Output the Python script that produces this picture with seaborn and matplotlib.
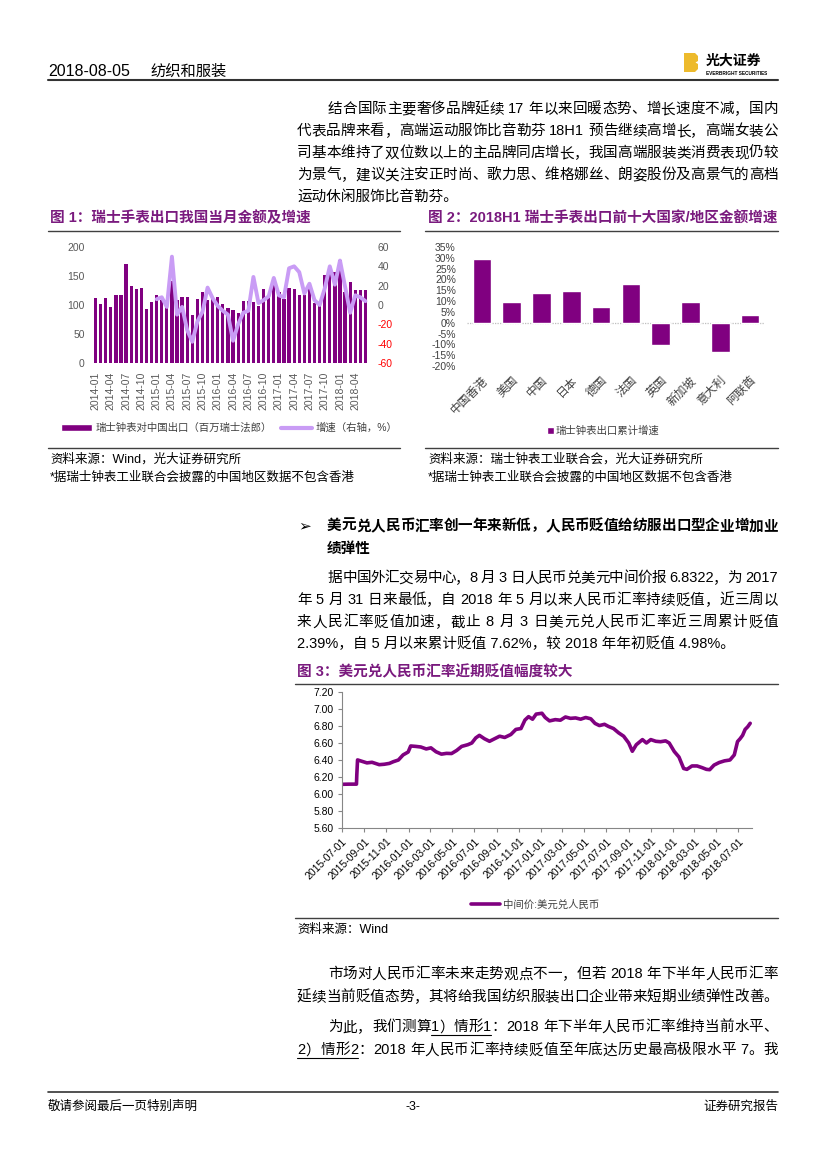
import re
import numpy as np
import pandas as pd
import matplotlib
matplotlib.use("Agg")
import matplotlib.pyplot as plt
import matplotlib.dates as mdates
import seaborn as sns
from matplotlib import font_manager
from matplotlib.lines import Line2D
from matplotlib.patches import Patch, Polygon

W, H = 827, 1169
PT = 100 / 72

# ---------------- data ----------------
months = pd.date_range("2014-01", "2018-06", freq="MS").strftime("%Y-%m").tolist()
export_value = [112, 101, 112, 96, 118, 117, 170, 133, 127, 130, 93, 105,
                117, 109, 97, 141, 108, 114, 114, 82, 110, 122, 109, 114,
                114, 102, 95, 91, 87, 107, 107, 106, 98, 128, 114, 136,
                122, 110, 130, 127, 117, 117, 130, 103, 100, 151, 159, 157,
                178, 122, 139, 125, 125, 126]
growth_start = "2015-01"
growth = [6, 8, -2, 50, -10, -2, -26, -38, -17, -7, 18, 7,
          -1, -6, -10, -37, -20, -8, -6, 29, 2, 5, 9, 28,
          10, 8, 38, 40, 34, 12, 22, 5, 0, 17, 40, 21,
          46, 19, -8, 10, 8, 4]

regions = ["中国香港", "美国", "中国", "日本", "德国", "法国", "英国", "新加坡", "意大利", "阿联酋"]
region_growth = [29.5, 9.5, 13.8, 14.5, 7.3, 18.0, -10.5, 9.7, -13.5, 3.5]

fx_dates = ["2015-07-01", "2015-07-20", "2015-08-10", "2015-08-11", "2015-08-13", "2015-08-24",
            "2015-09-08", "2015-09-22", "2015-10-12", "2015-10-26", "2015-11-09", "2015-11-20",
            "2015-12-04", "2015-12-17", "2015-12-31", "2016-01-07", "2016-01-21", "2016-02-04",
            "2016-02-19", "2016-03-03", "2016-03-17", "2016-04-01", "2016-04-15", "2016-04-29",
            "2016-05-13", "2016-05-27", "2016-06-13", "2016-06-24", "2016-07-05", "2016-07-15",
            "2016-07-29", "2016-08-12", "2016-08-26", "2016-09-09", "2016-09-23", "2016-10-10",
            "2016-10-24", "2016-11-07", "2016-11-18", "2016-11-28", "2016-12-09", "2016-12-19",
            "2017-01-04", "2017-01-13", "2017-01-25", "2017-02-10", "2017-02-24", "2017-03-10",
            "2017-03-24", "2017-04-07", "2017-04-21", "2017-05-05", "2017-05-19", "2017-05-31",
            "2017-06-12", "2017-06-26", "2017-07-07", "2017-07-21", "2017-08-04", "2017-08-18",
            "2017-09-01", "2017-09-11", "2017-09-22", "2017-10-09", "2017-10-20", "2017-11-01",
            "2017-11-15", "2017-11-28", "2017-12-12", "2017-12-22", "2018-01-05", "2018-01-18",
            "2018-01-31", "2018-02-09", "2018-02-23", "2018-03-09", "2018-03-23", "2018-04-04",
            "2018-04-13", "2018-04-25", "2018-05-09", "2018-05-24", "2018-06-08", "2018-06-20",
            "2018-06-29", "2018-07-06", "2018-07-13", "2018-07-20", "2018-07-27", "2018-08-03"]
fx_values = [6.114, 6.116, 6.116, 6.230, 6.401, 6.386,
             6.366, 6.373, 6.345, 6.350, 6.360, 6.380,
             6.400, 6.460, 6.494, 6.565, 6.560, 6.553,
             6.530, 6.543, 6.497, 6.469, 6.478, 6.476,
             6.512, 6.560, 6.580, 6.600, 6.660, 6.690,
             6.650, 6.620, 6.650, 6.680, 6.665, 6.700,
             6.760, 6.770, 6.870, 6.910, 6.880, 6.940,
             6.950, 6.900, 6.860, 6.875, 6.868, 6.906,
             6.890, 6.895, 6.880, 6.900, 6.885, 6.830,
             6.805, 6.820, 6.795, 6.770, 6.720, 6.680,
             6.600, 6.503, 6.580, 6.640, 6.600, 6.640,
             6.620, 6.615, 6.625, 6.600, 6.500, 6.435,
             6.300, 6.290, 6.330, 6.330, 6.310, 6.290,
             6.286, 6.340, 6.370, 6.390, 6.400, 6.460,
             6.617, 6.650, 6.690, 6.760, 6.790, 6.832]

PURPLE = "#800080"
LAVENDER = "#C99CF5"
TITLE = "#7A1A7E"
GRAY = "#595959"

# ---------------- fonts ----------------
sns.set_theme(style="white")
names = {f.name for f in font_manager.fontManager.ttflist}
BODY = ["Liberation Sans", "Noto Sans CJK SC", "DejaVu Sans"]
NARROW = (["Liberation Sans Narrow"] if "Liberation Sans Narrow" in names else []) + BODY
plt.rcParams["font.family"] = BODY
plt.rcParams["axes.unicode_minus"] = False

fig = plt.figure(figsize=(8.27, 11.69), dpi=100)
renderer = fig.canvas.get_renderer()


def fx(x):
    return x / W


def fy(y):
    return 1 - y / H


def hline(y, x0, x1, lw=1.0, color="black"):
    fig.add_artist(Line2D([fx(x0), fx(x1)], [fy(y), fy(y)], transform=fig.transFigure,
                          lw=lw, color=color))


def put(s, x, y, size=10.5, weight="normal", color="black", family=None, ha="left"):
    return fig.text(fx(x), fy(y + 0.36 * size * PT), s, fontsize=size, fontweight=weight,
                    color=color, family=family or BODY, ha=ha, va="baseline")


TOKEN = re.compile(r"[A-Za-z0-9.%\-]+| |.")


def justify(s, x0, x1, y, size=10.5, weight="normal", underline=None, family=None):
    toks = [(m.group(), m.start()) for m in TOKEN.finditer(s)]
    widths, arts = [], []
    for t, _ in toks:
        if t == " ":
            widths.append(size * 0.28 * PT)
            arts.append(None)
        else:
            a = put(t, x0, y, size=size, weight=weight, family=family)
            widths.append(a.get_window_extent(renderer).width)
            arts.append(a)
    gap = (x1 - x0 - sum(widths)) / (len(toks) - 1)
    x = x0
    spans = []
    for (t, st), w, a in zip(toks, widths, arts):
        if a is not None:
            a.set_x(fx(x))
        spans.append((st, x, x + w))
        x += w + gap
    if underline:
        a0 = s.index(underline)
        a1 = a0 + len(underline)
        xs = [(l, r) for st, l, r in spans if a0 <= st < a1]
        hline(y + 9, xs[0][0], xs[-1][1], lw=0.8)


# ---------------- page header ----------------
put("2018-08-05", 48, 70, size=11.5, family=NARROW)
put("纺织和服装", 150, 70, size=11, family=NARROW)
fig.add_artist(Polygon([(fx(684), fy(53)), (fx(695), fy(53)), (fx(698), fy(56)), (fx(698), fy(61)),
                        (fx(695.5), fy(62.5)), (fx(698), fy(64)), (fx(698), fy(69)), (fx(695), fy(72)),
                        (fx(684), fy(72))], closed=True, transform=fig.transFigure,
                       facecolor="#EDBA2C", edgecolor="none"))
put("光大证券", 706, 60, size=10, weight="bold")
put("EVERBRIGHT SECURITIES", 706, 73, size=3.4, weight="bold")
hline(80, 48, 778, lw=1.5, color="#333333")

# ---------------- paragraph 1 ----------------
justify("结合国际主要奢侈品牌延续 17 年以来回暖态势、增长速度不减，国内", 328, 778, 108)
justify("代表品牌来看，高端运动服饰比音勒芬 18H1 预告继续高增长，高端女装公", 297, 778, 130)
justify("司基本维持了双位数以上的主品牌同店增长，我国高端服装类消费表现仍较", 297, 778, 152)
justify("为景气，建议关注安正时尚、歌力思、维格娜丝、朗姿股份及高景气的高档", 297, 778, 174)
put("运动休闲服饰比音勒芬。", 297, 196)

# ---------------- figure 1 ----------------
put("图 1：瑞士手表出口我国当月金额及增速", 50, 217, size=10.5, weight="bold", color=TITLE)
hline(231, 48, 400, lw=1.0, color="#404040")
ax1 = fig.add_axes([fx(93), fy(363), (368 - 93) / W, (363 - 247) / H])
df1 = pd.DataFrame({"month": months, "value": export_value})
sns.barplot(data=df1, x="month", y="value", color=PURPLE, saturation=1, width=0.64,
            linewidth=0, ax=ax1)
ax1.set_ylim(0, 200)
ax1.set_yticks(range(0, 201, 50))
ax1.set_xticks(range(0, len(months), 3))
ax1.set_xticklabels(months[::3], rotation=90)
ax1.set_xlabel("")
ax1.set_ylabel("")
ax1.tick_params(length=0, labelsize=7.5, labelcolor=GRAY, pad=6)
ax1r = ax1.twinx()
df_g = pd.DataFrame({"pos": np.arange(months.index(growth_start), len(months)), "growth": growth})
sns.lineplot(data=df_g, x="pos", y="growth", color=LAVENDER, lw=2.8, ax=ax1r)
ax1.set_xlim(-0.5, len(months) - 0.5)
ax1r.set_ylim(-60, 60)
rticks = list(range(-60, 61, 20))
ax1r.set_yticks(rticks)
ax1r.set_ylabel("")
ax1r.tick_params(length=0, labelsize=7.5, labelcolor=GRAY, pad=7)
for lbl, v in zip(ax1r.get_yticklabels(), rticks):
    if v < 0:
        lbl.set_color("#FF0000")
for a in (ax1, ax1r):
    for sp in a.spines.values():
        sp.set_visible(False)
    a.patch.set_visible(False)
fig.legend(handles=[Patch(facecolor=PURPLE), Line2D([], [], color=LAVENDER, lw=3)],
           labels=["瑞士钟表对中国出口（百万瑞士法郎）", "增速（右轴，%）"],
           loc="center", bbox_to_anchor=(fx(229), fy(428)), ncol=2, frameon=False,
           fontsize=7.5, handlelength=3.0, handleheight=0.6, handletextpad=0.3,
           columnspacing=0.9, labelcolor="#404040")
hline(448, 48, 400, lw=1.0, color="#404040")
put("资料来源：Wind，光大证券研究所", 50, 458, size=9)
put("*据瑞士钟表工业联合会披露的中国地区数据不包含香港", 50, 476, size=9)

# ---------------- figure 2 ----------------
put("图 2：2018H1 瑞士手表出口前十大国家/地区金额增速", 428, 217, size=10.5, weight="bold", color=TITLE)
hline(231, 425, 778, lw=1.0, color="#404040")
ax2 = fig.add_axes([fx(467), fy(366), 298 / W, 119 / H])
df2 = pd.DataFrame({"region": regions, "growth": region_growth})
sns.barplot(data=df2, x="region", y="growth", color=PURPLE, saturation=1, width=0.62, ax=ax2)
ax2.axhline(0, color="#BFBFBF", lw=0.9, ls=(0, (1, 1)), zorder=0)
ax2.set_ylim(-20, 35)
yt2 = list(range(-20, 36, 5))
ax2.set_yticks(yt2)
ax2.set_yticklabels([f"{v}%" for v in yt2])
ax2.set_xticks(range(len(regions)))
ax2.set_xticklabels(regions, rotation=45, ha="right", rotation_mode="anchor")
ax2.set_xlabel("")
ax2.set_ylabel("")
ax2.tick_params(axis="y", length=0, labelsize=7.5, labelcolor="#404040", pad=8)
ax2.tick_params(axis="x", length=0, labelsize=8.5, labelcolor="#404040", pad=6)
for sp in ax2.spines.values():
    sp.set_visible(False)
ax2.patch.set_visible(False)
fig.legend(handles=[Patch(facecolor=PURPLE)], labels=["瑞士钟表出口累计增速"],
           loc="center", bbox_to_anchor=(fx(603), fy(431)), frameon=False,
           fontsize=7.5, handlelength=0.7, handleheight=0.7, handletextpad=0.1,
           labelcolor="#404040")
hline(448, 425, 778, lw=1.0, color="#404040")
put("资料来源：瑞士钟表工业联合会，光大证券研究所", 428, 458, size=9)
put("*据瑞士钟表工业联合会披露的中国地区数据不包含香港", 428, 476, size=9)

# ---------------- section 2 ----------------
put("➢", 298, 525, size=11, family=["DejaVu Sans"])
justify("美元兑人民币汇率创一年来新低，人民币贬值给纺服出口型企业增加业", 327, 778, 525, weight="bold")
put("绩弹性", 327, 548, weight="bold")
justify("据中国外汇交易中心，8 月 3 日人民币兑美元中间价报 6.8322，为 2017", 328, 778, 577)
justify("年 5 月 31 日来最低，自 2018 年 5 月以来人民币汇率持续贬值，近三周以", 297, 778, 599)
justify("来人民汇率贬值加速，截止 8 月 3 日美元兑人民币汇率近三周累计贬值", 297, 778, 621)
put("2.39%，自 5 月以来累计贬值 7.62%，较 2018 年年初贬值 4.98%。", 297, 643)

# ---------------- figure 3 ----------------
put("图 3：美元兑人民币汇率近期贬值幅度较大", 297, 671, size=10.5, weight="bold", color=TITLE)
hline(684, 295, 778, lw=1.0, color="#404040")
ax3 = fig.add_axes([fx(342), fy(828), 410 / W, 136 / H])
df3 = pd.DataFrame({"date": pd.to_datetime(fx_dates), "rate": fx_values})
sns.lineplot(data=df3, x="date", y="rate", color=PURPLE, lw=2.6, ax=ax3)
ax3.set_ylim(5.6, 7.2)
ax3.set_yticks(np.arange(5.6, 7.21, 0.2))
ax3.yaxis.set_major_formatter(matplotlib.ticker.FormatStrFormatter("%.2f"))
ax3.set_xlim(pd.Timestamp("2015-07-01"), pd.Timestamp("2018-08-08"))
ax3.xaxis.set_major_locator(mdates.MonthLocator(bymonth=[1, 3, 5, 7, 9, 11], bymonthday=1))
ax3.xaxis.set_major_formatter(mdates.DateFormatter("%Y-%m-%d"))
plt.setp(ax3.get_xticklabels(), rotation=45, ha="right", rotation_mode="anchor")
ax3.set_xlabel("")
ax3.set_ylabel("")
ax3.tick_params(axis="both", length=3, width=0.8, color="#868686", labelsize=7.5,
                labelcolor="black", pad=3, bottom=True, left=True)
for side in ("top", "right"):
    ax3.spines[side].set_visible(False)
for side in ("left", "bottom"):
    ax3.spines[side].set_color("#868686")
    ax3.spines[side].set_linewidth(0.8)
ax3.patch.set_visible(False)
fig.legend(handles=[Line2D([], [], color=PURPLE, lw=2.6)], labels=["中间价:美元兑人民币"],
           loc="center", bbox_to_anchor=(fx(535), fy(905)), frameon=False,
           fontsize=7.5, handlelength=2.8, handletextpad=0.3, labelcolor="#404040")
hline(918, 295, 778, lw=1.0, color="#404040")
put("资料来源：Wind", 297, 928, size=9)

# ---------------- closing paragraphs ----------------
justify("市场对人民币汇率未来走势观点不一，但若 2018 年下半年人民币汇率", 328, 778, 973)
justify("延续当前贬值态势，其将给我国纺织服装出口企业带来短期业绩弹性改善。", 297, 778, 996)
justify("为此，我们测算1）情形1：2018 年下半年人民币汇率维持当前水平、", 328, 778, 1026,
        underline="1）情形1")
justify("2）情形2：2018 年人民币汇率持续贬值至年底达历史最高极限水平 7。我", 297, 778, 1049,
        underline="2）情形2")

# ---------------- footer ----------------
hline(1092, 48, 778, lw=1.2, color="#333333")
put("敬请参阅最后一页特别声明", 48, 1105, size=9, family=NARROW)
put("-3-", 413, 1105, size=9, family=NARROW, ha="center")
put("证券研究报告", 778, 1105, size=9, family=NARROW, ha="right")

fig.savefig("out.png", dpi=100)
